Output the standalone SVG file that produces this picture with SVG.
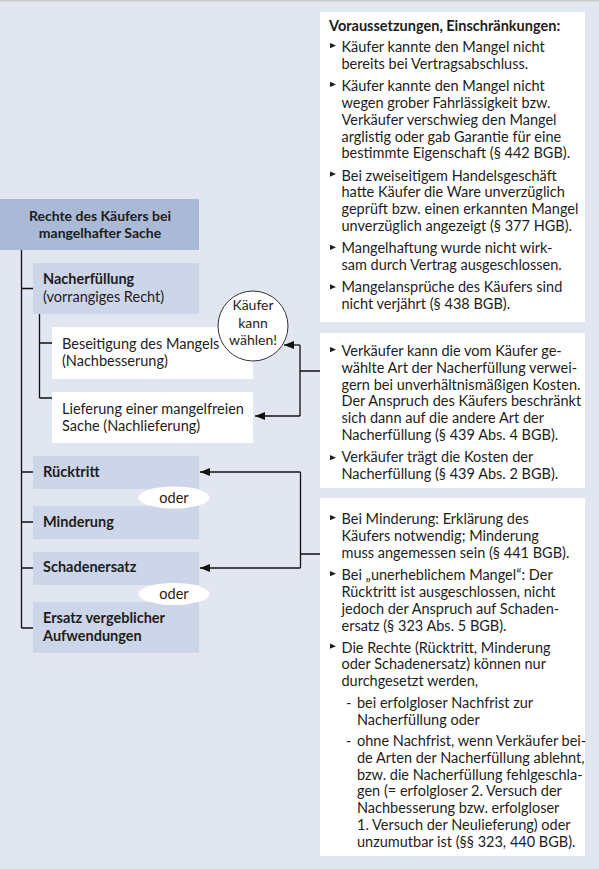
<svg xmlns="http://www.w3.org/2000/svg" width="599" height="869" viewBox="0 0 599 869">
<defs>
<style>
text{font-family:Lato,"Open Sans","Liberation Sans",sans-serif;font-size:14.5px;fill:#1d1d1b}
.b{font-weight:bold}
.t{font-size:14px}
.m{text-anchor:middle}
.ln{stroke:#111;stroke-width:1.3;fill:none}
.dark{fill:#aab9d6}
.mid{fill:#cdd5e8}
.wh{fill:#fff}
</style>
<marker id="ah" viewBox="0 0 10 8" refX="10" refY="4" markerWidth="10" markerHeight="8" markerUnits="userSpaceOnUse" orient="auto">
<path d="M0,0 L10,4 L0,8 Z" fill="#111"/>
</marker>
<path id="bul" d="M0,0 L6,2.6 L0,5.2 Z" fill="#1d1d1b"/>
</defs>
<rect x="0" y="0" width="599" height="869" fill="#e1e6f1"/>
<line x1="0" y1="0.8" x2="599" y2="0.8" stroke="#c9c9c9" stroke-width="1.6"/>

<g id="connectors">
<path class="ln" d="M21.5,250 V628 M21.5,288.5 H33 M21.5,472 H33 M21.5,522 H33 M21.5,568 H33 M21.5,628 H33"/>
<path class="ln" d="M39.5,314 V398 M39.5,343 H52 M39.5,398 H52"/>
<path class="ln" d="M300,345 V416 M300,371 H320"/>
<path class="ln" d="M300,345 H284" marker-end="url(#ah)"/>
<path class="ln" d="M300,416 H255" marker-end="url(#ah)"/>
<path class="ln" d="M300.5,472 V568 M300.5,554 H320"/>
<path class="ln" d="M300.5,472 H200" marker-end="url(#ah)"/>
<path class="ln" d="M300.5,568 H200" marker-end="url(#ah)"/>
</g>

<g id="title">
<rect class="dark" x="0" y="199" width="199" height="51"/>
<text class="b m t"><tspan x="100" y="221">Rechte des Käufers bei</tspan><tspan x="100" y="238">mangelhafter Sache</tspan></text>
</g>

<g id="nacherfuellung">
<rect class="mid" x="33" y="263" width="166" height="51"/>
<text><tspan class="b" x="43" y="284">Nacherfüllung</tspan><tspan x="43" y="302">(vorrangiges Recht)</tspan></text>
</g>

<g id="beseitigung">
<rect class="wh" x="52" y="327" width="201" height="52"/>
<text><tspan x="62" y="349">Beseitigung des Mangels</tspan><tspan x="62" y="366">(Nachbesserung)</tspan></text>
</g>

<g id="lieferung">
<rect class="wh" x="52" y="392" width="201" height="51"/>
<text><tspan x="62" y="414">Lieferung einer mangelfreien</tspan><tspan x="62" y="431">Sache (Nachlieferung)</tspan></text>
</g>

<g id="waehlen">
<circle cx="253" cy="326" r="35" fill="#fff" stroke="#333" stroke-width="1"/>
<text class="m t"><tspan x="253" y="310">Käufer</tspan><tspan x="253" y="327.5">kann</tspan><tspan x="253" y="345">wählen!</tspan></text>
</g>

<g id="ruecktritt">
<rect class="mid" x="33" y="456" width="166" height="33"/>
<text class="b" x="43" y="477">Rücktritt</text>
</g>
<g id="minderung">
<rect class="mid" x="33" y="506" width="166" height="33"/>
<text class="b" x="43" y="527">Minderung</text>
</g>
<g id="schadenersatz">
<rect class="mid" x="33" y="552" width="166" height="33"/>
<text class="b" x="43" y="572">Schadenersatz</text>
</g>
<g id="ersatz">
<rect class="mid" x="33" y="602" width="166" height="51"/>
<text class="b"><tspan x="43" y="623">Ersatz vergeblicher</tspan><tspan x="43" y="641">Aufwendungen</tspan></text>
</g>
<g id="oder1">
<ellipse cx="174" cy="497.5" rx="35.5" ry="11" fill="#fff"/>
<text class="m" x="174" y="502.5">oder</text>
</g>
<g id="oder2">
<ellipse cx="174" cy="594" rx="35.5" ry="11" fill="#fff"/>
<text class="m" x="174" y="599">oder</text>
</g>

<g id="voraussetzungen">
<rect class="wh" x="320" y="12" width="265" height="310"/>
<text class="b" x="329" y="31">Voraussetzungen, Einschränkungen:</text>
<use href="#bul" x="330" y="43"/>
<use href="#bul" x="330" y="81.8"/>
<use href="#bul" x="330" y="171.5"/>
<use href="#bul" x="330" y="244.7"/>
<use href="#bul" x="330" y="284.3"/>
<text>
<tspan x="341.5" y="52">Käufer kannte den Mangel nicht</tspan>
<tspan x="341.5" y="68.8">bereits bei Vertragsabschluss.</tspan>
<tspan x="341.5" y="91.1">Käufer kannte den Mangel nicht</tspan>
<tspan x="341.5" y="107.9">wegen grober Fahrlässigkeit bzw.</tspan>
<tspan x="341.5" y="124.7">Verkäufer verschwieg den Mangel</tspan>
<tspan x="341.5" y="141.5">arglistig oder gab Garantie für eine</tspan>
<tspan x="341.5" y="158.3">bestimmte Eigenschaft (§ 442 BGB).</tspan>
<tspan x="341.5" y="180.6">Bei zweiseitigem Handelsgeschäft</tspan>
<tspan x="341.5" y="197.4">hatte Käufer die Ware unverzüglich</tspan>
<tspan x="341.5" y="214.2">geprüft bzw. einen erkannten Mangel</tspan>
<tspan x="341.5" y="231">unverzüglich angezeigt (§ 377 HGB).</tspan>
<tspan x="341.5" y="253.3">Mangelhaftung wurde nicht wirk-</tspan>
<tspan x="341.5" y="270.1">sam durch Vertrag ausgeschlossen.</tspan>
<tspan x="341.5" y="292.4">Mangelansprüche des Käufers sind</tspan>
<tspan x="341.5" y="309.2">nicht verjährt (§ 438 BGB).</tspan>
</text>
</g>

<g id="nacherfuellung-hinweise">
<rect class="wh" x="320" y="333" width="265" height="155"/>
<use href="#bul" x="330" y="347"/>
<use href="#bul" x="330" y="455.1"/>
<text>
<tspan x="341.5" y="356">Verkäufer kann die vom Käufer ge-</tspan>
<tspan x="341.5" y="372.8">wählte Art der Nacherfüllung verwei-</tspan>
<tspan x="341.5" y="389.6">gern bei unverhältnismäßigen Kosten.</tspan>
<tspan x="341.5" y="406.4">Der Anspruch des Käufers beschränkt</tspan>
<tspan x="341.5" y="423.2">sich dann auf die andere Art der</tspan>
<tspan x="341.5" y="440">Nacherfüllung (§ 439 Abs. 4 BGB).</tspan>
<tspan x="341.5" y="462.3">Verkäufer trägt die Kosten der</tspan>
<tspan x="341.5" y="479.1">Nacherfüllung (§ 439 Abs. 2 BGB).</tspan>
</text>
</g>

<g id="sonstige-hinweise">
<rect class="wh" x="320" y="498" width="265" height="358"/>
<use href="#bul" x="330" y="515"/>
<use href="#bul" x="330" y="571.1"/>
<use href="#bul" x="330" y="643.6"/>
<text>
<tspan x="341.5" y="524">Bei Minderung: Erklärung des</tspan>
<tspan x="341.5" y="540.8">Käufers notwendig; Minderung</tspan>
<tspan x="341.5" y="557.6">muss angemessen sein (§ 441 BGB).</tspan>
<tspan x="341.5" y="580.1">Bei „unerheblichem Mangel“: Der</tspan>
<tspan x="341.5" y="596.9">Rücktritt ist ausgeschlossen, nicht</tspan>
<tspan x="341.5" y="613.7">jedoch der Anspruch auf Schaden-</tspan>
<tspan x="341.5" y="630.5">ersatz (§ 323 Abs. 5 BGB).</tspan>
<tspan x="341.5" y="652.6">Die Rechte (Rücktritt, Minderung</tspan>
<tspan x="341.5" y="669.4">oder Schadenersatz) können nur</tspan>
<tspan x="341.5" y="686.2">durchgesetzt werden,</tspan>
<tspan x="346" y="707.7">-</tspan>
<tspan x="357" y="707.7">bei erfolgloser Nachfrist zur</tspan>
<tspan x="357" y="724.5">Nacherfüllung oder</tspan>
<tspan x="346" y="746">-</tspan>
<tspan x="357" y="746">ohne Nachfrist, wenn Verkäufer bei-</tspan>
<tspan x="357" y="762.8">de Arten der Nacherfüllung ablehnt,</tspan>
<tspan x="357" y="779.6">bzw. die Nacherfüllung fehlgeschla-</tspan>
<tspan x="357" y="796.4">gen (= erfolgloser 2. Versuch der</tspan>
<tspan x="357" y="813.2">Nachbesserung bzw. erfolgloser</tspan>
<tspan x="357" y="830">1. Versuch der Neulieferung) oder</tspan>
<tspan x="357" y="846.8">unzumutbar ist (§§ 323, 440 BGB).</tspan>
</text>
</g>
</svg>
